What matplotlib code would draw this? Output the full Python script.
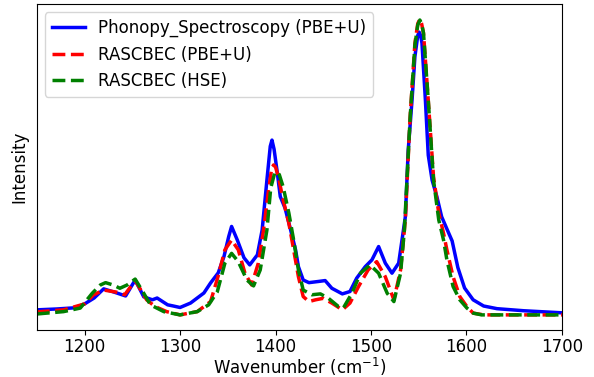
import matplotlib
matplotlib.use('Agg')
import matplotlib.pyplot as plt

# values (wavenumber in cm^-1, normalised intensity)
wn_phonopy = [1150, 1171, 1190, 1200, 1210, 1220, 1230, 1243, 1253, 1262, 1271, 1276,
              1287, 1293, 1300, 1311, 1325, 1332, 1340, 1346, 1351, 1354, 1360, 1367,
              1373, 1381, 1386, 1391, 1394.5, 1396.3, 1398.5, 1401.5, 1405, 1410, 1415, 1421,
              1424, 1429, 1435, 1445, 1452, 1459, 1470, 1478, 1485, 1494, 1501, 1508,
              1515, 1522, 1529, 1534, 1536, 1539, 1543, 1546, 1549, 1550.5, 1552, 1553.4,
              1557, 1560, 1564, 1569, 1574, 1580, 1585, 1588, 1591, 1598, 1607, 1618, 1632,
              1660, 1700]
int_phonopy = [0.017, 0.020, 0.024, 0.037, 0.057, 0.088, 0.078, 0.064, 0.118, 0.061, 0.051, 0.057,
               0.034, 0.030, 0.025, 0.040, 0.074, 0.108, 0.142, 0.197, 0.265, 0.299, 0.253, 0.193,
               0.169, 0.203, 0.287, 0.456, 0.570, 0.591, 0.560, 0.490, 0.400, 0.361, 0.298, 0.220,
               0.163, 0.118, 0.109, 0.113, 0.116, 0.090, 0.071, 0.079, 0.124, 0.163, 0.186, 0.231,
               0.175, 0.141, 0.175, 0.287, 0.332, 0.557, 0.726, 0.873, 0.945, 0.956, 0.945, 0.919,
               0.726, 0.540, 0.456, 0.400, 0.332, 0.287, 0.250, 0.205, 0.160, 0.091, 0.051, 0.030, 0.021,
               0.014, 0.007]

wn_pbe = [1150, 1178, 1200, 1209.5, 1220, 1237, 1242, 1253, 1265, 1274, 1286, 1300,
          1318, 1332, 1340, 1347, 1354, 1361, 1368, 1375, 1382, 1387.5, 1392.7, 1396, 1398,
          1400, 1403, 1408, 1414, 1419, 1424, 1429, 1435, 1442, 1450, 1459, 1470, 1478, 1487,
          1497, 1506, 1515, 1524, 1531, 1536, 1541, 1546, 1549, 1551.2, 1553, 1555, 1560,
          1565.5, 1571, 1576, 1579.5, 1586, 1593, 1600.5, 1607, 1618, 1700]
int_pbe = [0.010, 0.017, 0.037, 0.068, 0.084, 0.075, 0.068, 0.116, 0.051, 0.028, 0.011, 0.000,
           0.011, 0.045, 0.132, 0.220, 0.253, 0.220, 0.141, 0.101, 0.175, 0.287, 0.422, 0.495, 0.507,
           0.500, 0.467, 0.389, 0.310, 0.220, 0.129, 0.062, 0.045, 0.051, 0.056, 0.040, 0.017, 0.040, 0.096,
           0.152, 0.180, 0.129, 0.051, 0.152, 0.321, 0.670, 0.918, 0.985, 1.000, 0.985, 0.953, 0.726,
           0.467, 0.344, 0.276, 0.220, 0.129, 0.062, 0.028, 0.006, 0.000, 0.000]

wn_hse = [1150, 1178, 1195.5, 1208, 1216.5, 1222, 1230, 1237, 1244.5, 1253, 1262, 1269,
          1283, 1300, 1318, 1330, 1339, 1347, 1354, 1361, 1370, 1377, 1384, 1391, 1395,
          1399, 1401.5, 1404, 1408, 1414, 1419, 1424, 1429, 1438, 1447, 1455.5, 1466, 1471, 1480,
          1489, 1499, 1508, 1517, 1524, 1531, 1535, 1541, 1546, 1549, 1551.2, 1553, 1555,
          1560, 1565.5, 1571, 1576, 1579.5, 1586, 1593, 1600.5, 1607, 1616, 1700]
int_hse = [0.003, 0.011, 0.023, 0.073, 0.101, 0.109, 0.101, 0.090, 0.101, 0.121, 0.073, 0.034,
           0.011, 0.000, 0.011, 0.034, 0.078, 0.175, 0.208, 0.180, 0.118, 0.098, 0.152, 0.287, 0.429,
           0.478, 0.484, 0.474, 0.433, 0.344, 0.253, 0.152, 0.084, 0.068, 0.071, 0.056, 0.028, 0.023, 0.073,
           0.141, 0.169, 0.141, 0.073, 0.045, 0.141, 0.287, 0.666, 0.912, 0.980, 0.997, 0.985, 0.953,
           0.726, 0.456, 0.321, 0.253, 0.186, 0.096, 0.051, 0.023, 0.006, 0.000, 0.000]

fig = plt.figure(figsize=(5.94, 3.77), dpi=100)
ax = fig.add_axes([0.062, 0.125, 0.884, 0.864])

ax.plot(wn_phonopy, int_phonopy, color='blue', lw=2.5, label='Phonopy_Spectroscopy (PBE+U)')
ax.plot(wn_pbe, int_pbe, color='red', lw=2.5, linestyle='--', label='RASCBEC (PBE+U)')
ax.plot(wn_hse, int_hse, color='green', lw=2.5, linestyle='--', label='RASCBEC (HSE)')

ax.set_xlim(1150, 1700)
ax.set_ylim(-0.0507, 1.0507)
ax.set_yticks([])
ax.tick_params(axis='x', labelsize=12, pad=2)
ax.set_xlabel('Wavenumber (cm$^{-1}$)', fontsize=12, labelpad=0)
ax.set_ylabel('Intensity', fontsize=12, labelpad=6)
ax.legend(loc='upper left', fontsize=12)

fig.savefig('out.png', dpi=100)
